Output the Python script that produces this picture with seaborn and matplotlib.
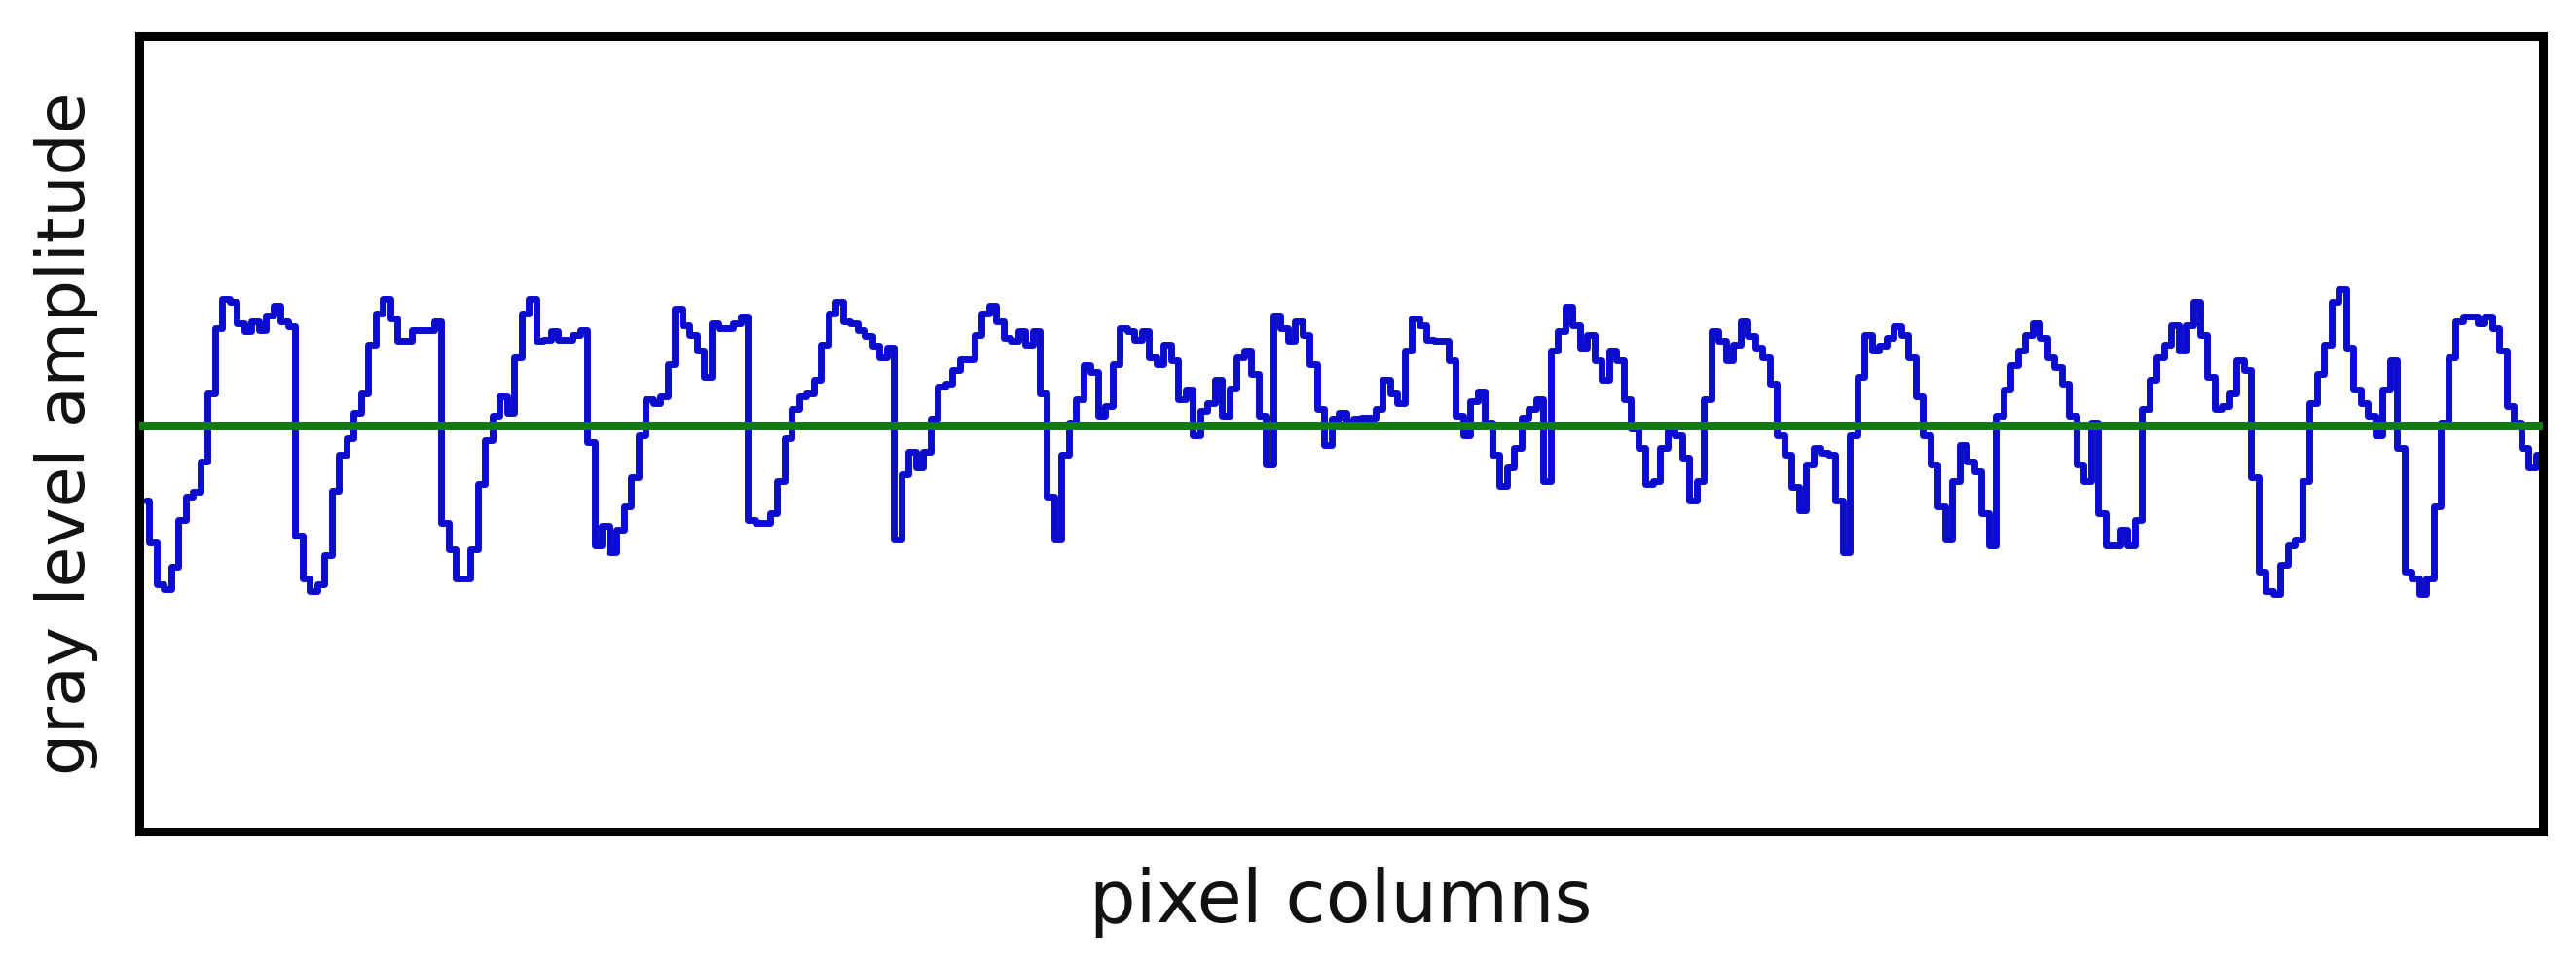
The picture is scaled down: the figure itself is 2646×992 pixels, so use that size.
import numpy as np
import pandas as pd
import matplotlib
matplotlib.use("Agg")
import matplotlib.pyplot as plt
import seaborn as sns

# Gray level profile along one image row (amplitude around the mean)
seg1 = [-77, -120, -163, -168, -145, -97, -73, -68, -37, 33, 100, 130, 127, 105, 97, 107, 98, 113, 123, 107,
        102, -113, -157, -170, -163, -133, -67, -30, -13, 13, 33, 83, 115, 130, 110, 87, 87, 98, 98, 98,
        107, -100, -127, -157, -157, -127, -60, -15, 10, 30, 13, 70, 115, 130, 87]
seg2 = [88, 97, 88, 88, 93, 98, -17, -123, -103, -130, -107, -83, -53, -10, 27, 23, 30, 63, 120, 103,
        93, 77, 50, 105, 100, 100, 105, 112, -97, -100, -100, -90, -57, -13, 17, 30, 33, 47, 83, 115,
        127, 107, 105, 98, 92, 82, 70, 80, -117, -50, -27, -43, -27, 7, 40, 43]
seg3 = [57, 68, 68, 93, 115, 123, 107, 90, 87, 97, 83, 97, 33, -73, -117, -30, 3, 27, 62, 55,
        10, 20, 63, 100, 97, 88, 97, 70, 63, 83, 67, 27, 37, -10, 15, 23, 47, 10, 38, 70,
        77, 53, 10, -40, 113, 100, 87, 107, 93, 63, 17, -20, 7, 13, 3, 7]
seg4 = [8, 8, 17, 47, 33, 23, 77, 110, 103, 88, 87, 87, 67, 10, -10, 25, 35, 3, -30, -62,
        -43, -23, 8, 17, 27, -57, 77, 97, 122, 103, 80, 93, 67, 47, 77, 67, 27, -3, -23, -60,
        -57, -23, -3, -10, -33, -77, -57, 27, 97, 87, 67, 83, 107, 92, 80, 70]
seg5 = [43, -10, -30, -63, -87, -40, -23, -28, -30, -77, -130, -10, 50, 93, 77, 82, 90, 102, 93, 70,
        30, -10, -40, -83, -117, -57, -20, -37, -47, -90, -123, 10, 37, 62, 77, 93, 105, 90, 70, 60,
        43, 10, -40, -57, 3, -90, -123, -123, -107, -123, -97, 17, 47, 70, 83, 103]
seg6 = [77, 103, 127, 93, 50, 17, 20, 33, 67, 57, -53, -150, -170, -173, -143, -123, -117, -57, 23, 53,
        83, 127, 140, 80, 37, 23, 10, -10, 37, 67, -23, -150, -157, -173, -157, -83, 3, 70, 107, 112,
        112, 105, 112, 100, 77, 20, 3, -23, -43, -30]

amplitude = np.array(seg1 + seg2 + seg3 + seg4 + seg5 + seg6)
columns = np.arange(len(amplitude))
df = pd.DataFrame({"columna": columns, "amplitud": amplitude})

sns.set_style("white")
plt.rcParams['font.family'] = ['DejaVu Sans']

fig = plt.figure(figsize=(26.46, 9.92), dpi=100)
ax = fig.add_axes([0.054, 0.139, 0.933, 0.824])

sns.lineplot(data=df, x="columna", y="amplitud", ax=ax, color="#0c0cce",
             linewidth=5, drawstyle="steps-mid", zorder=2)
ax.axhline(0, color="#137a13", linewidth=6.5, zorder=3)

ax.set_xlim(-0.9, len(amplitude) - 0.6)
ax.set_ylim(-417, 400)
ax.set_xticks([])
ax.set_yticks([])
ax.set_xlabel("pixel columns", fontsize=54, labelpad=26, color="#111111")
ax.set_ylabel("gray level amplitude", fontsize=49, labelpad=30, color="#111111")
for s in ax.spines.values():
    s.set_visible(True)
    s.set_color("black")
    s.set_linewidth(6.5)

fig.savefig("out.png", dpi=100)
plt.close(fig)
